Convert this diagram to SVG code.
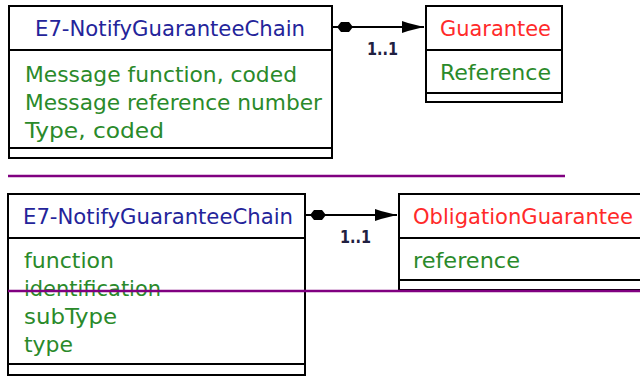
<svg xmlns="http://www.w3.org/2000/svg" width="640" height="390" viewBox="0 0 640 390">
<style>
.box{fill:#fff;stroke:#000;stroke-width:2}
.ln{stroke:#000;stroke-width:2}
text{font-family:"DejaVu Sans Condensed","DejaVu Sans","Liberation Sans",sans-serif;font-size:21px}
.hd{fill:#24249a}
.cls{fill:#ff2a2a}
.at{fill:#2a8a2a}
.m{font-size:18px;fill:#202040;font-weight:bold}
.conn{stroke:#000;stroke-width:2;fill:none}
.purple{stroke:#800080;stroke-width:2.5}
</style>
<rect width="640" height="390" fill="#fff"/>
<g id="node-chain1">
<rect class="box" x="9" y="6" width="323" height="152"/>
<line class="ln" x1="9" y1="50" x2="332" y2="50"/>
<line class="ln" x1="9" y1="148" x2="332" y2="148"/>
<text class="hd" x="35" y="36" textLength="270" lengthAdjust="spacingAndGlyphs">E7-NotifyGuaranteeChain</text>
<text class="at" x="25" y="82" textLength="272" lengthAdjust="spacingAndGlyphs">Message function, coded</text>
<text class="at" x="25" y="110" textLength="297" lengthAdjust="spacingAndGlyphs">Message reference number</text>
<text class="at" x="25" y="138" textLength="139" lengthAdjust="spacingAndGlyphs">Type, coded</text>
</g>
<g id="node-guarantee">
<rect class="box" x="426" y="6" width="136" height="96"/>
<line class="ln" x1="426" y1="50" x2="562" y2="50"/>
<line class="ln" x1="426" y1="93" x2="562" y2="93"/>
<text class="cls" x="440" y="36" textLength="111" lengthAdjust="spacingAndGlyphs">Guarantee</text>
<text class="at" x="440" y="80" textLength="111" lengthAdjust="spacingAndGlyphs">Reference</text>
</g>
<g id="node-chain2">
<rect class="box" x="8" y="194" width="297" height="181"/>
<line class="ln" x1="8" y1="238" x2="305" y2="238"/>
<line class="ln" x1="8" y1="364" x2="305" y2="364"/>
<text class="hd" x="23" y="224" textLength="270" lengthAdjust="spacingAndGlyphs">E7-NotifyGuaranteeChain</text>
<text class="at" x="24" y="268" textLength="90" lengthAdjust="spacingAndGlyphs">function</text>
<text class="at" x="24" y="296" textLength="137" lengthAdjust="spacingAndGlyphs">identification</text>
<text class="at" x="24" y="324" textLength="93" lengthAdjust="spacingAndGlyphs">subType</text>
<text class="at" x="24" y="352" textLength="49" lengthAdjust="spacingAndGlyphs">type</text>
</g>
<g id="node-obligation">
<rect class="box" x="399" y="194" width="250" height="96"/>
<line class="ln" x1="399" y1="238" x2="640" y2="238"/>
<line class="ln" x1="399" y1="280" x2="640" y2="280"/>
<text class="cls" x="413" y="224" textLength="220" lengthAdjust="spacingAndGlyphs">ObligationGuarantee</text>
<text class="at" x="413" y="268" textLength="107" lengthAdjust="spacingAndGlyphs">reference</text>
</g>
<g id="connectors">
<line class="conn" x1="333" y1="27" x2="424" y2="27"/>
<path d="M337,27 L341,22 L349,22 L353,27 L349,32 L341,32 Z" fill="#000"/>
<path d="M402,21 L408,23 L424,27 L408,31 L402,33 Z" fill="#000"/>
<text class="m" x="367" y="55" textLength="31" lengthAdjust="spacingAndGlyphs">1..1</text>
<line class="conn" x1="306" y1="215" x2="397" y2="215"/>
<path d="M310,215 L314,210 L322,210 L326,215 L322,220 L314,220 Z" fill="#000"/>
<path d="M375,209 L381,211 L397,215 L381,219 L375,221 Z" fill="#000"/>
<text class="m" x="340" y="243" textLength="31" lengthAdjust="spacingAndGlyphs">1..1</text>
</g>
<line class="purple" x1="8" y1="176" x2="565" y2="176"/>
<line class="purple" x1="8" y1="291" x2="640" y2="291"/>
</svg>
